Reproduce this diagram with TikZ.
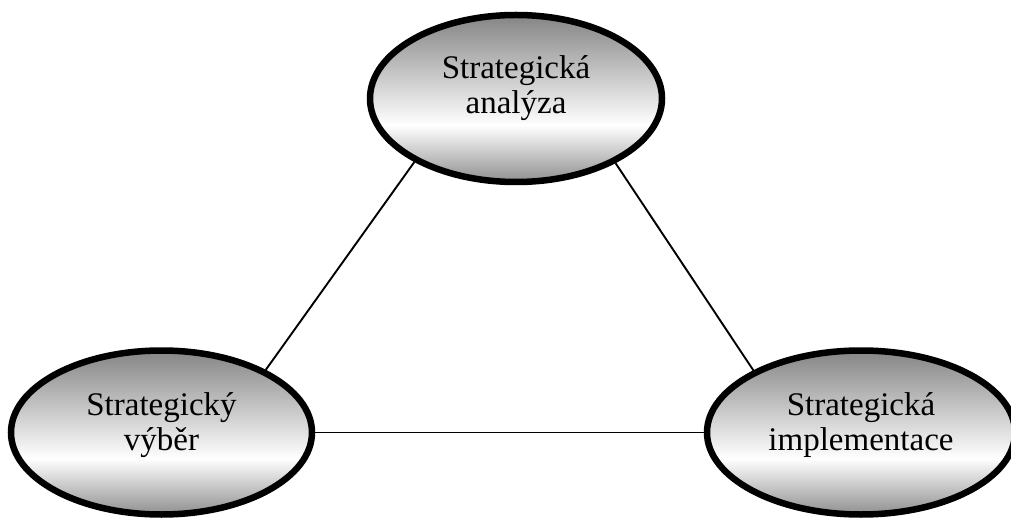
\documentclass[tikz,border=0pt]{standalone}
\usepackage{fontspec}
\setmainfont{Liberation Serif}
\usetikzlibrary{shapes.geometric}
\definecolor{ovaltop}{gray}{0.52}
\definecolor{ovalbot}{gray}{0.56}
% grey at the rim, white a little below the middle
\pgfdeclareverticalshading{ovalfill}{100bp}{color(0bp)=(ovalbot); color(25bp)=(ovalbot); color(42bp)=(white); color(75bp)=(ovaltop); color(100bp)=(ovaltop)}
\tikzset{
  oval/.style={ellipse, draw=black, line width=6.5pt, shade, shading=ovalfill, inner sep=0pt},
  lbl/.style={align=center, font=\fontsize{33}{35}\selectfont, yshift=10pt},
  link/.style={draw=black, line width=1.9pt}
}
\begin{document}
\begin{tikzpicture}[x=1pt,y=-1pt]
\useasboundingbox (0,0) rectangle (1011,518);
% the three phases
\node[oval, minimum width=292pt, minimum height=167pt] (ana) at (516,98.5) {};
\node[oval, minimum width=301pt, minimum height=164pt] (vyb) at (161.5,432.5) {};
\node[oval, minimum width=308pt, minimum height=164pt] (imp) at (861,432.5) {};
\node[lbl] (anaT) at (ana.center) {Strategická\\analýza};
\node[lbl, yshift=-3pt] (vybT) at (vyb.center) {Strategický\\výběr};
\node[lbl, yshift=-3pt] (impT) at (imp.center) {Strategická\\implementace};
% links between the phases
\draw[link] (ana.212.6) -- (vyb.31);
\draw[link] (ana.327.8) -- (imp.150);
\draw[link] (vyb.east) -- (imp.west);
\end{tikzpicture}
\end{document}
